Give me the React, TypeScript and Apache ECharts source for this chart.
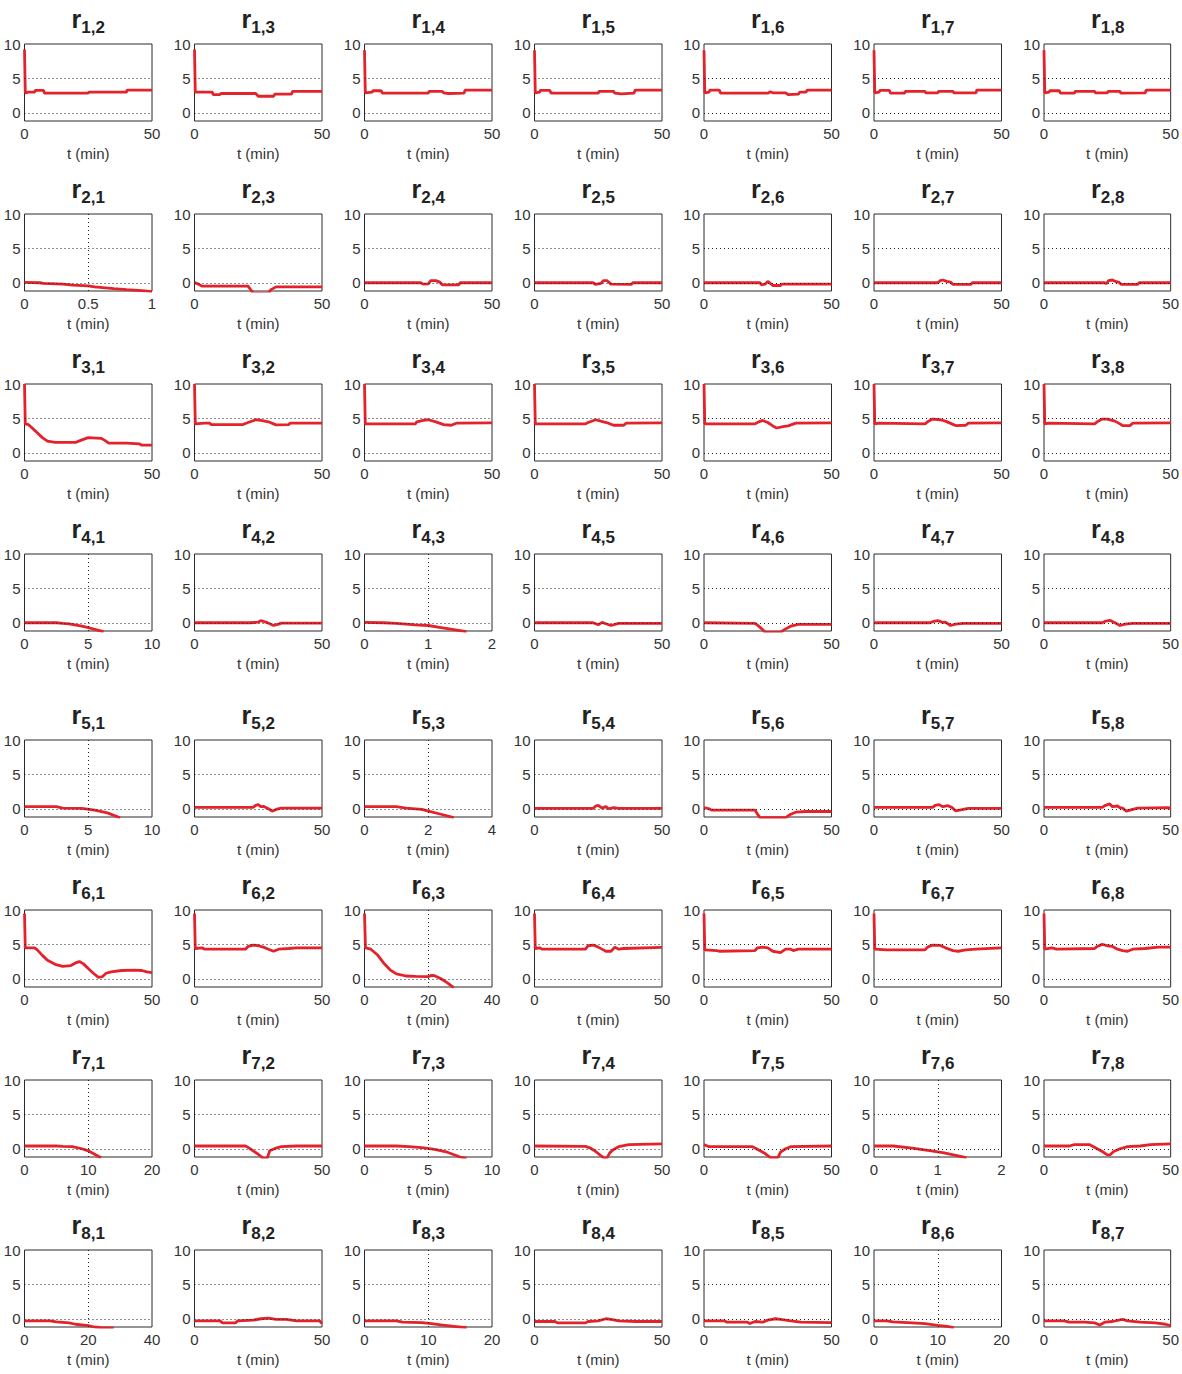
import React, { useEffect, useRef } from "react";
import * as echarts from "echarts";

const FONT = "'Liberation Sans', Arial, Helvetica, sans-serif";

// Y range shared by all panels
const Y_MIN = -1.2;
const Y_MAX = 10;
const Y_TICKS = [0, 5, 10];

// ---- row 1 ----
const r12 = [[0, 9.2], [0.3, 2.9], [1.5, 3.0], [4, 3.0], [4.2, 3.25], [7.5, 3.25], [7.8, 2.85], [25, 2.85], [25.2, 3.0], [40, 3.0], [40.2, 3.3], [50, 3.3]];
const r13 = [[0, 9.2], [0.3, 3.0], [7, 3.0], [7.3, 2.65], [10, 2.65], [10.3, 2.8], [24, 2.8], [25, 2.4], [31, 2.4], [31.5, 2.7], [38, 2.7], [38.5, 3.1], [50, 3.1]];
const r14 = [[0, 9.1], [0.3, 2.9], [3, 3.0], [3.3, 3.2], [6.5, 3.2], [7, 2.85], [25, 2.85], [25.3, 3.1], [30.5, 3.1], [31, 2.9], [33, 2.8], [39, 2.85], [39.5, 3.3], [50, 3.3]];
const r15 = [[0, 9.1], [0.3, 2.9], [2, 3.0], [2.3, 3.25], [6, 3.25], [6.5, 2.85], [25, 2.85], [25.3, 3.1], [31, 3.1], [31.5, 2.85], [34, 2.75], [39, 2.85], [39.5, 3.3], [50, 3.3]];
const r16 = [[0, 9.1], [0.3, 2.9], [2, 3.0], [2.3, 3.3], [6, 3.3], [6.5, 2.85], [25, 2.85], [26, 3.05], [27, 2.9], [32, 2.9], [33, 2.65], [37, 2.7], [37.5, 3.0], [40, 3.0], [40.5, 3.3], [50, 3.3]];
const r17 = [[0, 9.1], [0.3, 2.9], [2, 3.0], [2.3, 3.25], [6, 3.25], [6.5, 2.85], [12, 2.85], [12.3, 3.1], [20, 3.1], [20.3, 2.9], [25, 2.9], [25.3, 3.1], [31, 3.1], [31.3, 2.9], [40, 2.9], [40.3, 3.3], [50, 3.3]];
const r18 = [[0, 9.1], [0.3, 2.9], [2, 3.0], [2.3, 3.2], [6, 3.2], [6.5, 2.85], [12, 2.85], [12.3, 3.1], [20, 3.1], [20.3, 2.9], [25, 2.9], [25.3, 3.1], [30, 3.1], [30.3, 2.85], [40, 2.9], [40.3, 3.3], [50, 3.3]];

// ---- row 2 ----
const r21 = [[0, 0.05], [0.12, 0.0], [0.15, -0.1], [0.3, -0.2], [0.38, -0.35], [0.5, -0.45], [0.55, -0.6], [0.7, -0.85], [0.8, -1.0], [0.92, -1.15], [1, -1.3]];
const r23 = [[0, 0.05], [1.5, -0.2], [3, -0.5], [21, -0.5], [22, -1.0], [23, -1.5], [29, -1.5], [30, -1.0], [32, -0.6], [50, -0.6]];
const r24 = [[0, 0], [22, 0], [23, -0.2], [25, -0.15], [26, 0.3], [28, 0.3], [29.5, 0.1], [30.5, -0.3], [37, -0.3], [37.5, 0], [50, 0]];
const r25 = [[0, 0], [23, 0], [24, -0.25], [26, -0.1], [27, 0.3], [28.5, 0.3], [30, -0.2], [38, -0.25], [38.5, 0], [50, 0]];
const r26 = [[0, 0], [22, 0], [22.5, -0.3], [24, -0.2], [25, 0.2], [26, -0.1], [27, -0.4], [30, -0.4], [30.5, -0.2], [50, -0.2]];
const r27 = [[0, 0], [25, 0], [26, 0.3], [27, 0.4], [28.5, 0.2], [30, 0.1], [31, -0.25], [38, -0.25], [38.5, 0], [50, 0]];
const r28 = [[0, 0], [24, 0], [24.5, -0.15], [25.5, 0.3], [27, 0.4], [28.5, 0.15], [29.5, 0.1], [30.5, -0.25], [37, -0.25], [37.5, 0], [50, 0]];

// ---- row 3 ----
const r31 = [[0, 10], [0.3, 4.2], [1.5, 4.1], [3, 3.6], [5, 2.9], [7, 2.2], [9, 1.7], [12, 1.5], [20, 1.5], [22, 1.8], [25, 2.2], [30, 2.1], [31.5, 1.8], [33, 1.4], [40, 1.4], [45, 1.3], [46, 1.1], [50, 1.1]];
const r32 = [[0, 10], [0.3, 4.2], [4, 4.3], [6, 4.3], [6.5, 4.1], [19, 4.1], [21, 4.4], [24, 4.8], [26, 4.7], [29, 4.5], [31, 4.2], [32, 4.05], [37, 4.1], [37.5, 4.3], [50, 4.3]];
const r34 = [[0, 10], [0.3, 4.2], [20, 4.2], [20.5, 4.5], [23, 4.7], [25, 4.8], [28, 4.5], [31, 4.1], [34, 4.0], [36, 4.3], [50, 4.35]];
const r35 = [[0, 10], [0.3, 4.2], [20, 4.2], [21, 4.4], [24, 4.8], [27, 4.5], [29, 4.3], [31, 4.0], [35, 4.0], [36, 4.3], [50, 4.35]];
const r36 = [[0, 10], [0.3, 4.2], [20, 4.2], [21.5, 4.5], [23, 4.7], [25, 4.4], [27, 3.9], [28.5, 3.6], [31, 3.8], [33, 3.9], [36, 4.3], [50, 4.35]];
const r37 = [[0, 10], [0.3, 4.2], [2, 4.3], [20, 4.2], [21, 4.5], [23, 4.9], [26, 4.8], [28, 4.6], [30.5, 4.2], [32, 3.95], [36, 4.0], [37, 4.3], [50, 4.35]];
const r38 = [[0, 10], [0.3, 4.2], [2, 4.3], [20, 4.2], [21, 4.5], [23, 4.9], [25, 4.9], [28, 4.6], [30, 4.2], [31, 3.95], [34, 3.95], [35, 4.3], [50, 4.35]];

// ---- row 4 ----
const r41 = [[0, 0], [2.5, 0], [3, -0.1], [3.5, -0.15], [4.5, -0.5], [5, -0.7], [5.5, -0.95], [6.2, -1.3]];
const r42 = [[0, 0], [22, 0], [25, 0.1], [26, 0.3], [28, 0.1], [31, -0.4], [33, -0.2], [34, -0.05], [50, -0.05]];
const r43 = [[0, 0.05], [0.3, 0.0], [0.5, -0.1], [0.8, -0.3], [1.0, -0.4], [1.2, -0.7], [1.4, -1.0], [1.6, -1.3]];
const r45 = [[0, 0], [23, 0], [25, -0.3], [26.5, 0.05], [28, -0.15], [30, -0.4], [33, -0.1], [50, -0.1]];
const r46 = [[0, 0], [20, -0.1], [21.5, -0.5], [23, -1.0], [24, -1.4], [30, -1.4], [31.5, -1.0], [34, -0.5], [37, -0.25], [50, -0.25]];
const r47 = [[0, 0], [22, 0], [23, 0.15], [25, 0.3], [27, 0.05], [28, 0.1], [30, -0.4], [32, -0.2], [35, -0.1], [50, -0.1]];
const r48 = [[0, 0], [23, 0], [24, 0.2], [26, 0.35], [28, 0.0], [30, -0.4], [32, -0.2], [35, -0.1], [50, -0.1]];

// ---- row 5 ----
const r51 = [[0, 0.3], [2.5, 0.3], [3, 0.1], [4.5, 0.05], [5.5, -0.2], [6.5, -0.6], [7.5, -1.3]];
const r52 = [[0, 0.2], [23, 0.2], [24, 0.5], [25, 0.6], [26, 0.3], [27, 0.35], [29, 0.0], [30.5, -0.35], [32, -0.1], [34, 0.1], [50, 0.1]];
const r53 = [[0, 0.3], [1, 0.3], [1.3, 0.1], [1.8, -0.1], [2.0, -0.35], [2.4, -0.8], [2.8, -1.3]];
const r54 = [[0, 0.05], [23, 0.05], [24, 0.4], [25, 0.5], [26.5, 0.1], [28, 0.3], [29, 0.0], [31, 0.15], [33, 0.05], [50, 0.05]];
const r56 = [[0, 0.15], [2, 0.0], [3, -0.2], [20, -0.2], [21, -0.8], [22, -1.3], [32, -1.3], [34, -0.8], [36, -0.5], [40, -0.4], [50, -0.4]];
const r57 = [[0, 0.2], [23, 0.2], [24, 0.5], [25.5, 0.6], [27, 0.3], [29, 0.45], [30.5, 0.2], [32, -0.3], [35, -0.1], [37, 0.05], [50, 0.05]];
const r58 = [[0, 0.2], [23, 0.2], [24, 0.45], [26, 0.7], [27, 0.3], [29, 0.4], [30, 0.15], [31, 0.1], [32.5, -0.35], [35, -0.1], [37, 0.1], [49, 0.15], [50, 0.05]];

// ---- row 6 ----
const r61 = [[0, 9.5], [0.3, 4.5], [4, 4.5], [5, 4.2], [7, 3.4], [9, 2.7], [12, 2.1], [15, 1.8], [18, 1.9], [20, 2.3], [21.5, 2.5], [23, 2.2], [25, 1.5], [27, 0.8], [29, 0.2], [30.5, 0.3], [32, 0.8], [34, 1.0], [38, 1.2], [43, 1.25], [46, 1.2], [48, 1.0], [50, 0.9]];
const r62 = [[0, 9.5], [0.3, 4.4], [3, 4.5], [4, 4.3], [20, 4.3], [21, 4.7], [23, 4.9], [25, 4.8], [27, 4.6], [29, 4.3], [31, 4.0], [33, 4.3], [37, 4.4], [40, 4.5], [50, 4.5]];
const r63 = [[0, 9.5], [0.3, 4.5], [2, 4.3], [4, 3.5], [6, 2.3], [8, 1.3], [10, 0.7], [13, 0.4], [16, 0.35], [20, 0.3], [21, 0.5], [22, 0.45], [24, 0.0], [26, -0.6], [28, -1.3]];
const r64 = [[0, 9.5], [0.3, 4.4], [2, 4.5], [3, 4.3], [20, 4.3], [21, 4.8], [23, 4.9], [25, 4.6], [27, 4.2], [28, 4.0], [30, 4.0], [31.5, 4.6], [33, 4.3], [35, 4.4], [50, 4.55]];
const r65 = [[0, 9.5], [0.3, 4.2], [5, 4.1], [6, 4.0], [20, 4.1], [21, 4.5], [23, 4.6], [25, 4.5], [27, 4.0], [30, 3.8], [32, 4.3], [34, 4.3], [35, 4.1], [37, 4.3], [50, 4.3]];
const r67 = [[0, 9.5], [0.3, 4.3], [5, 4.2], [20, 4.2], [21, 4.6], [23, 4.9], [26, 4.85], [28, 4.5], [31, 4.1], [33, 4.0], [36, 4.2], [40, 4.3], [50, 4.5]];
const r68 = [[0, 9.5], [0.3, 4.3], [3, 4.5], [5, 4.3], [20, 4.4], [21, 4.7], [23, 5.0], [25, 4.8], [27, 4.7], [29, 4.3], [31, 4.1], [33, 4.0], [35, 4.3], [40, 4.4], [45, 4.6], [50, 4.6]];

// ---- row 7 ----
const r71 = [[0, 0.4], [5, 0.4], [6, 0.35], [7.5, 0.3], [9, 0.0], [10, -0.3], [11, -0.8], [12, -1.3]];
const r72 = [[0, 0.4], [20, 0.4], [21, 0.2], [23, -0.3], [25, -0.8], [27, -1.4], [28.5, -1.4], [29.5, -0.3], [32, 0.1], [34, 0.3], [40, 0.4], [50, 0.4]];
const r73 = [[0, 0.4], [2.5, 0.4], [3.5, 0.3], [4.5, 0.15], [5.5, -0.1], [6.5, -0.5], [7.5, -1.2], [8, -1.4]];
const r74 = [[0, 0.4], [20, 0.35], [22, 0.1], [24, -0.4], [26, -1.0], [27.5, -1.4], [28.5, -1.3], [29.5, -0.6], [31, -0.1], [33, 0.3], [37, 0.6], [50, 0.7]];
const r75 = [[0, 0.6], [2, 0.3], [19, 0.3], [20, 0.1], [22, -0.3], [24, -0.7], [26, -1.3], [29, -1.3], [30, -0.5], [32, 0.0], [34, 0.3], [50, 0.4]];
const r76 = [[0, 0.4], [0.3, 0.4], [0.6, 0.1], [0.9, -0.3], [1.1, -0.6], [1.3, -1.0], [1.45, -1.3]];
const r78 = [[0, 0.4], [10, 0.4], [12, 0.6], [18, 0.6], [19, 0.4], [21, 0.0], [23, -0.4], [25, -0.9], [26, -0.9], [27.5, -0.4], [30, 0.0], [33, 0.3], [38, 0.4], [42, 0.6], [50, 0.7]];

// ---- row 8 ----
const r81 = [[0, -0.3], [8, -0.3], [10, -0.45], [14, -0.6], [16, -0.8], [20, -1.0], [22, -1.2], [24, -1.3], [28, -1.35]];
const r82 = [[0, -0.3], [10, -0.3], [11, -0.6], [16, -0.6], [17, -0.3], [23, -0.2], [26, 0.0], [29, 0.1], [32, -0.1], [36, -0.1], [40, -0.3], [49, -0.3], [50, -0.7]];
const r83 = [[0, -0.3], [5, -0.3], [6, -0.5], [9, -0.55], [10.5, -0.7], [12, -0.9], [14, -1.1], [16, -1.3]];
const r84 = [[0, -0.4], [8, -0.4], [9, -0.6], [20, -0.6], [21, -0.4], [25, -0.3], [28, 0.0], [30, -0.1], [33, -0.3], [40, -0.4], [50, -0.4]];
const r85 = [[0, -0.3], [8, -0.3], [9, -0.5], [17, -0.5], [18, -0.7], [20, -0.4], [23, -0.5], [25, -0.2], [28, 0.0], [30, -0.1], [34, -0.3], [38, -0.5], [50, -0.55]];
const r86 = [[0, -0.3], [2, -0.3], [3, -0.45], [6, -0.6], [8, -0.7], [10, -0.95], [11.5, -1.1], [12.5, -1.3]];
const r87 = [[0, -0.3], [8, -0.3], [10, -0.5], [16, -0.5], [20, -0.6], [22, -0.9], [24, -0.5], [27, -0.4], [31, -0.1], [33, -0.3], [38, -0.5], [44, -0.6], [48, -0.8], [50, -1.0]];

// panel list: subscripts, x-axis max, optional middle tick
const PANELS = [
  { i: 1, j: 2, xMax: 50, mid: null, data: r12 },
  { i: 1, j: 3, xMax: 50, mid: null, data: r13 },
  { i: 1, j: 4, xMax: 50, mid: null, data: r14 },
  { i: 1, j: 5, xMax: 50, mid: null, data: r15 },
  { i: 1, j: 6, xMax: 50, mid: null, data: r16 },
  { i: 1, j: 7, xMax: 50, mid: null, data: r17 },
  { i: 1, j: 8, xMax: 50, mid: null, data: r18 },
  { i: 2, j: 1, xMax: 1, mid: 0.5, data: r21 },
  { i: 2, j: 3, xMax: 50, mid: null, data: r23 },
  { i: 2, j: 4, xMax: 50, mid: null, data: r24 },
  { i: 2, j: 5, xMax: 50, mid: null, data: r25 },
  { i: 2, j: 6, xMax: 50, mid: null, data: r26 },
  { i: 2, j: 7, xMax: 50, mid: null, data: r27 },
  { i: 2, j: 8, xMax: 50, mid: null, data: r28 },
  { i: 3, j: 1, xMax: 50, mid: null, data: r31 },
  { i: 3, j: 2, xMax: 50, mid: null, data: r32 },
  { i: 3, j: 4, xMax: 50, mid: null, data: r34 },
  { i: 3, j: 5, xMax: 50, mid: null, data: r35 },
  { i: 3, j: 6, xMax: 50, mid: null, data: r36 },
  { i: 3, j: 7, xMax: 50, mid: null, data: r37 },
  { i: 3, j: 8, xMax: 50, mid: null, data: r38 },
  { i: 4, j: 1, xMax: 10, mid: 5, data: r41 },
  { i: 4, j: 2, xMax: 50, mid: null, data: r42 },
  { i: 4, j: 3, xMax: 2, mid: 1, data: r43 },
  { i: 4, j: 5, xMax: 50, mid: null, data: r45 },
  { i: 4, j: 6, xMax: 50, mid: null, data: r46 },
  { i: 4, j: 7, xMax: 50, mid: null, data: r47 },
  { i: 4, j: 8, xMax: 50, mid: null, data: r48 },
  { i: 5, j: 1, xMax: 10, mid: 5, data: r51 },
  { i: 5, j: 2, xMax: 50, mid: null, data: r52 },
  { i: 5, j: 3, xMax: 4, mid: 2, data: r53 },
  { i: 5, j: 4, xMax: 50, mid: null, data: r54 },
  { i: 5, j: 6, xMax: 50, mid: null, data: r56 },
  { i: 5, j: 7, xMax: 50, mid: null, data: r57 },
  { i: 5, j: 8, xMax: 50, mid: null, data: r58 },
  { i: 6, j: 1, xMax: 50, mid: null, data: r61 },
  { i: 6, j: 2, xMax: 50, mid: null, data: r62 },
  { i: 6, j: 3, xMax: 40, mid: 20, data: r63 },
  { i: 6, j: 4, xMax: 50, mid: null, data: r64 },
  { i: 6, j: 5, xMax: 50, mid: null, data: r65 },
  { i: 6, j: 7, xMax: 50, mid: null, data: r67 },
  { i: 6, j: 8, xMax: 50, mid: null, data: r68 },
  { i: 7, j: 1, xMax: 20, mid: 10, data: r71 },
  { i: 7, j: 2, xMax: 50, mid: null, data: r72 },
  { i: 7, j: 3, xMax: 10, mid: 5, data: r73 },
  { i: 7, j: 4, xMax: 50, mid: null, data: r74 },
  { i: 7, j: 5, xMax: 50, mid: null, data: r75 },
  { i: 7, j: 6, xMax: 2, mid: 1, data: r76 },
  { i: 7, j: 8, xMax: 50, mid: null, data: r78 },
  { i: 8, j: 1, xMax: 40, mid: 20, data: r81 },
  { i: 8, j: 2, xMax: 50, mid: null, data: r82 },
  { i: 8, j: 3, xMax: 20, mid: 10, data: r83 },
  { i: 8, j: 4, xMax: 50, mid: null, data: r84 },
  { i: 8, j: 5, xMax: 50, mid: null, data: r85 },
  { i: 8, j: 6, xMax: 20, mid: 10, data: r86 },
  { i: 8, j: 7, xMax: 50, mid: null, data: r87 },
];

// layout (pixels)
const ROW_TOP = [44, 214, 384, 554, 740, 910, 1080, 1250];
const COL_LEFT = [24.5, 194.5, 364.5, 534.5, 704, 874, 1044];
const PW = 127.5;
const PH = 77;

function buildOption() {
  const grids: any[] = [];
  const xAxes: any[] = [];
  const yAxes: any[] = [];
  const series: any[] = [];
  const graphics: any[] = [];
  PANELS.forEach((p, idx) => {
    const col = p.j < p.i ? p.j - 1 : p.j - 2;
    const left = COL_LEFT[col];
    const top = ROW_TOP[p.i - 1];
    grids.push({
      left, top, width: PW, height: PH, show: true,
      borderColor: "#2a2a2a", borderWidth: 1, backgroundColor: "#ffffff",
    });
    const xTicks = p.mid === null ? [0, p.xMax] : [0, p.mid, p.xMax];
    xAxes.push({
      type: "value", gridIndex: idx, min: 0, max: p.xMax,
      axisLine: { show: false }, axisTick: { show: false }, splitLine: { show: false },
      axisLabel: {
        customValues: xTicks, showMinLabel: true, showMaxLabel: true, hideOverlap: false,
        fontSize: 15, color: "#333", fontFamily: FONT, margin: 5,
      },
      name: "t (min)", nameLocation: "middle", nameGap: 25,
      nameTextStyle: { fontSize: 15, color: "#333", fontFamily: FONT },
    });
    yAxes.push({
      type: "value", gridIndex: idx, min: Y_MIN, max: Y_MAX,
      axisLine: { show: false }, axisTick: { show: false }, splitLine: { show: false },
      axisLabel: {
        customValues: Y_TICKS, showMinLabel: true, showMaxLabel: true, hideOverlap: false,
        fontSize: 15, color: "#333", fontFamily: FONT, margin: 4,
      },
    });
    const gl: any[] = [{ yAxis: 0 }, { yAxis: 5 }];
    if (p.mid !== null) gl.push({ xAxis: p.mid });
    series.push({
      type: "line", xAxisIndex: idx, yAxisIndex: idx, data: p.data,
      symbol: "none", silent: true, z: 1,
      lineStyle: { opacity: 0, width: 0 },
      markLine: {
        silent: true, symbol: ["none", "none"], label: { show: false },
        lineStyle: { color: "#222", type: [1, 3], width: 1 },
        emphasis: { disabled: true },
        data: gl,
      },
    });
    series.push({
      type: "line", xAxisIndex: idx, yAxisIndex: idx, data: p.data,
      symbol: "none", silent: true, z: 3, clip: true,
      lineStyle: { color: "#e3222b", width: 2.8 },
    });
    graphics.push({
      type: "text",
      x: left + PW / 2,
      y: top - 38,
      style: {
        text: `{r|r}{s|${p.i},${p.j}}`,
        align: "center",
        verticalAlign: "top",
        rich: {
          r: { fontSize: 25, fontWeight: "bold", fontFamily: FONT, fill: "#222", lineHeight: 30, verticalAlign: "top" },
          s: { fontSize: 17, fontWeight: "bold", fontFamily: FONT, fill: "#222", lineHeight: 30, verticalAlign: "bottom" },
        },
      },
    });
  });
  return {
    animation: false,
    backgroundColor: "#ffffff",
    grid: grids,
    xAxis: xAxes,
    yAxis: yAxes,
    series,
    graphic: graphics,
  };
}

export default function App() {
  const ref = useRef<HTMLDivElement>(null);
  useEffect(() => {
    if (!ref.current) return;
    const chart = echarts.init(ref.current, undefined, { renderer: "svg" });
    chart.setOption(buildOption() as any);
    return () => chart.dispose();
  }, []);
  return (
    <div
      ref={ref}
      style={{ position: "absolute", left: 0, top: 0, width: 1182, height: 1374 }}
    />
  );
}
